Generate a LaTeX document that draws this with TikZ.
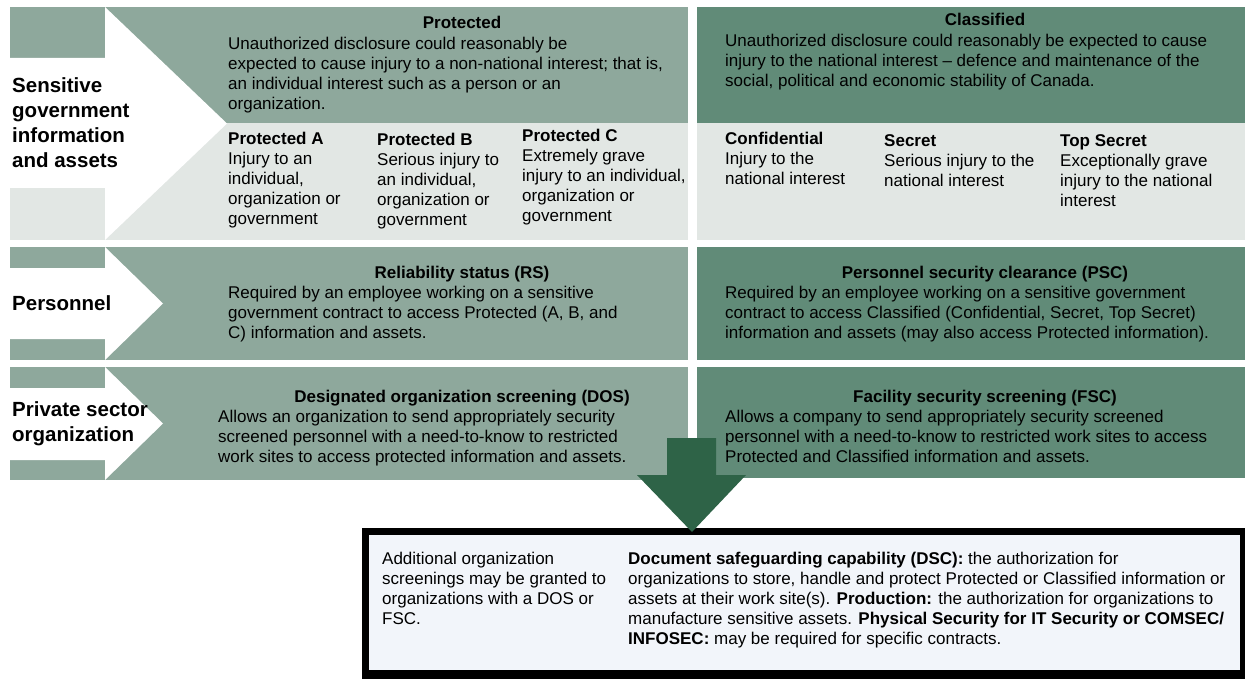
\documentclass[tikz,border=0pt]{standalone}
\usepackage{fontspec}
\setmainfont{Liberation Sans}
\definecolor{lgreen}{RGB}{142,168,156}
\definecolor{dgreen}{RGB}{97,139,120}
\definecolor{lgrey}{RGB}{226,231,228}
\definecolor{arrowgreen}{RGB}{46,99,71}
\definecolor{boxfill}{RGB}{242,245,250}
\begin{document}
\begin{tikzpicture}[x=1pt,y=-1pt,
  txt/.style={font=\fontsize{17}{20}\selectfont, align=left, anchor=north west, inner sep=0pt, text=black},
  ttl/.style={font=\fontsize{17}{20}\selectfont\bfseries, anchor=north, inner sep=0pt, text=black},
  lbl/.style={font=\fontsize{20.5}{25}\selectfont\bfseries, align=left, anchor=west, inner sep=0pt, text=black}]

\useasboundingbox (0,0) rectangle (1245,679);
\fill[white] (0,0) rectangle (1245,679);

% ---------- row 1
\fill[lgreen] (10,7) rectangle (688,123);
\fill[lgrey] (10,123) rectangle (688,240);
\fill[dgreen] (697,7) rectangle (1245,123);
\fill[lgrey] (697,123) rectangle (1245,240);
\fill[white] (10,58) -- (105,58) -- (105,7) -- (227,123.5) -- (105,240) -- (105,188) -- (10,188) -- cycle;

% ---------- row 2
\fill[lgreen] (10,247) rectangle (688,360);
\fill[dgreen] (697,247) rectangle (1245,360);
\fill[white] (10,268) -- (105,268) -- (105,247) -- (163,303.5) -- (105,360) -- (105,339) -- (10,339) -- cycle;

% ---------- row 3
\fill[lgreen] (10,367) rectangle (688,480);
\fill[dgreen] (697,367) rectangle (1245,478);
\fill[white] (10,388) -- (105,388) -- (105,367) -- (163,423.5) -- (105,480) -- (105,460) -- (10,460) -- cycle;

% ---------- bottom box
\fill[black] (362,528) rectangle (1245,679);
\fill[boxfill] (369,535) rectangle (1240,670);

% ---------- down arrow
\fill[arrowgreen] (667,438) -- (716,438) -- (716,475) -- (746,475) -- (692,532) -- (637,475) -- (667,475) -- cycle;

% ---------- row labels
\node[lbl] (l1) at (12,122.5) {Sensitive\\government\\information\\and assets};
\node[lbl] (l2) at (12,303.5) {Personnel};
\node[lbl] (l3) at (12,423.5) {Private sector\\organization};

% ---------- row 1 left
\node[ttl] (prot) at (462,16) {Protected};
\node[txt] (protd) at (228,36.5) {Unauthorized disclosure could reasonably be\\expected to cause injury to a non-national interest; that is,\\an individual interest such as a person or an\\organization.};
\node[txt] (pa) at (228,131.5) {\textbf{Protected A}\\Injury to an\\individual,\\organization or\\government};
\node[txt] (pb) at (377,132.5) {\textbf{Protected B}\\Serious injury to\\an individual,\\organization or\\government};
\node[txt] (pc) at (522,128.5) {\textbf{Protected C}\\Extremely grave\\injury to an individual,\\organization or\\government};

% ---------- row 1 right
\node[ttl] (clas) at (985,13) {Classified};
\node[txt] (clasd) at (725,34) {Unauthorized disclosure could reasonably be expected to cause\\injury to the national interest -- defence and maintenance of the\\social, political and economic stability of Canada.};
\node[txt] (conf) at (725,131.5) {\textbf{Confidential}\\Injury to the\\national interest};
\node[txt] (secr) at (884,134.5) {\textbf{Secret}\\Serious injury to the\\national interest};
\node[txt] (tops) at (1060,134.5) {\textbf{Top Secret}\\Exceptionally grave\\injury to the national\\interest};

% ---------- row 2
\node[ttl] (rs) at (462,265.5) {Reliability status (RS)};
\node[txt] (rsd) at (228,285.5) {Required by an employee working on a sensitive\\government contract to access Protected (A, B, and\\C) information and assets.};
\node[ttl] (psc) at (985,265.5) {Personnel security clearance (PSC)};
\node[txt] (pscd) at (725,285.5) {Required by an employee working on a sensitive government\\contract to access Classified (Confidential, Secret, Top Secret)\\information and assets (may also access Protected information).};

% ---------- row 3
\node[ttl] (dos) at (462,389.5) {Designated organization screening (DOS)};
\node[txt] (dosd) at (218,409.5) {Allows an organization to send appropriately security\\screened personnel with a need-to-know to restricted\\work sites to access protected information and assets.};
\node[ttl] (fsc) at (985,389.5) {Facility security screening (FSC)};
\node[txt] (fscd) at (725,409.5) {Allows a company to send appropriately security screened\\personnel with a need-to-know to restricted work sites to access\\Protected and Classified information and assets.};

% ---------- box texts
\node[txt] (add) at (382,551.5) {Additional organization\\screenings may be granted to\\organizations with a DOS or\\FSC.};
\node[txt] (dsc) at (628,551.5) {\textbf{Document safeguarding capability (DSC):} the authorization for\\organizations to store, handle and protect Protected or Classified information or\\assets at their work site(s). \textbf{Production:} the authorization for organizations to\\manufacture sensitive assets. \textbf{Physical Security for IT Security or COMSEC/}\\\textbf{INFOSEC:} may be required for specific contracts.};
\end{tikzpicture}
\end{document}
